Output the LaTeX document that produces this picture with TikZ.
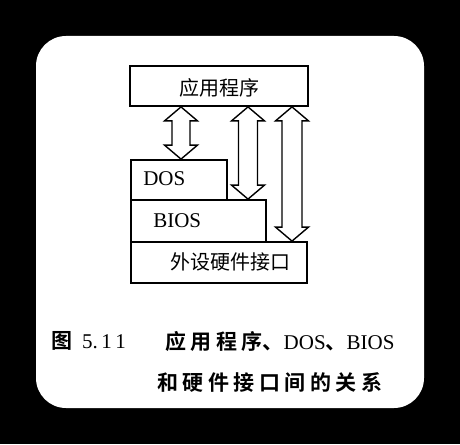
\documentclass[tikz,border=0pt]{standalone}
\usepackage{fontspec}
\setmainfont{Liberation Serif}
\newfontfamily\cjk{Noto Sans CJK SC}
\newfontfamily\cjkb{Noto Sans CJK SC Bold}
\usetikzlibrary{calc}
\newcommand\cg{\hspace{4.5pt}}
\tikzset{
  layerbox/.style={draw=black, line width=1.8pt, rectangle, inner sep=0pt},
  boxcn/.style={font=\cjk\fontsize{20}{24}\selectfont, inner sep=0pt},
  boxen/.style={font=\fontsize{21}{24}\selectfont, inner sep=0pt},
  caption/.style={font=\cjkb\fontsize{21}{24}\selectfont, inner sep=0pt, anchor=west},
  arrowline/.style={draw=black, line width=1.4pt, fill=white, line join=miter}
}
% hollow double-headed arrow between two points (canvas coordinates)
\newcommand\hollowarrow[3]{%
  \path[arrowline] let \p1=(#1), \p2=(#2), \n1={#3} in
    (\x1,\y1) -- (\x1+16.5pt,\y1-14pt) -- (\x1+\n1,\y1-14pt) --
    (\x1+\n1,\y2+14pt) -- (\x1+16.5pt,\y2+14pt) -- (\x1,\y2) --
    (\x1-16.5pt,\y2+14pt) -- (\x1-\n1,\y2+14pt) --
    (\x1-\n1,\y1-14pt) -- (\x1-16.5pt,\y1-14pt) -- cycle;}
\begin{document}
\begin{tikzpicture}[x=1pt,y=-1pt]
  % page and card
  \fill[black] (0,0) rectangle (460,444);
  \useasboundingbox (0,0) rectangle (460,444);
  \fill[white, rounded corners=30pt] (36,36) rectangle (424,408);

  % layers
  \node[layerbox, minimum width=178pt, minimum height=40pt] (app) at (219,86) {};
  \node[layerbox, minimum width=96pt, minimum height=40pt] (dos) at (179,180) {};
  \node[layerbox, minimum width=135pt, minimum height=42pt] (bios) at (198.5,221) {};
  \node[layerbox, minimum width=176pt, minimum height=41pt] (hw) at (219,262.5) {};

  \node[boxcn] (apptext) at (219,88) {应用程序};
  \node[boxen, anchor=west] (dostext) at ([xshift=13pt,yshift=1pt]dos.west) {DOS};
  \node[boxen, anchor=west] (biostext) at ([xshift=23pt,yshift=0pt]bios.west) {BIOS};
  \node[boxcn] (hwtext) at (230,262) {外设硬件接口};

  % interfaces between the layers
  \coordinate (c1) at (181,0);
  \coordinate (c2) at (248,0);
  \coordinate (c3) at (292,0);
  \hollowarrow{app.south -| c1}{dos.north -| c1}{9pt}
  \hollowarrow{app.south -| c2}{bios.north -| c2}{9.5pt}
  \hollowarrow{app.south -| c3}{hw.north -| c3}{10pt}

  % caption
  \node[caption] (figno) at (51,341) {图\hspace{10pt}{\rmfamily\fontsize{21}{24}\selectfont 5.\,1\,1}};
  \node[caption] (cap1) at (165,341) {应\cg 用\cg 程\cg 序、{\rmfamily DOS}、{\rmfamily BIOS}};
  \node[caption] (cap2) at (157,383) {和\cg 硬\cg 件\cg 接\cg 口\cg 间\cg 的\cg 关\cg 系};
\end{tikzpicture}
\end{document}
